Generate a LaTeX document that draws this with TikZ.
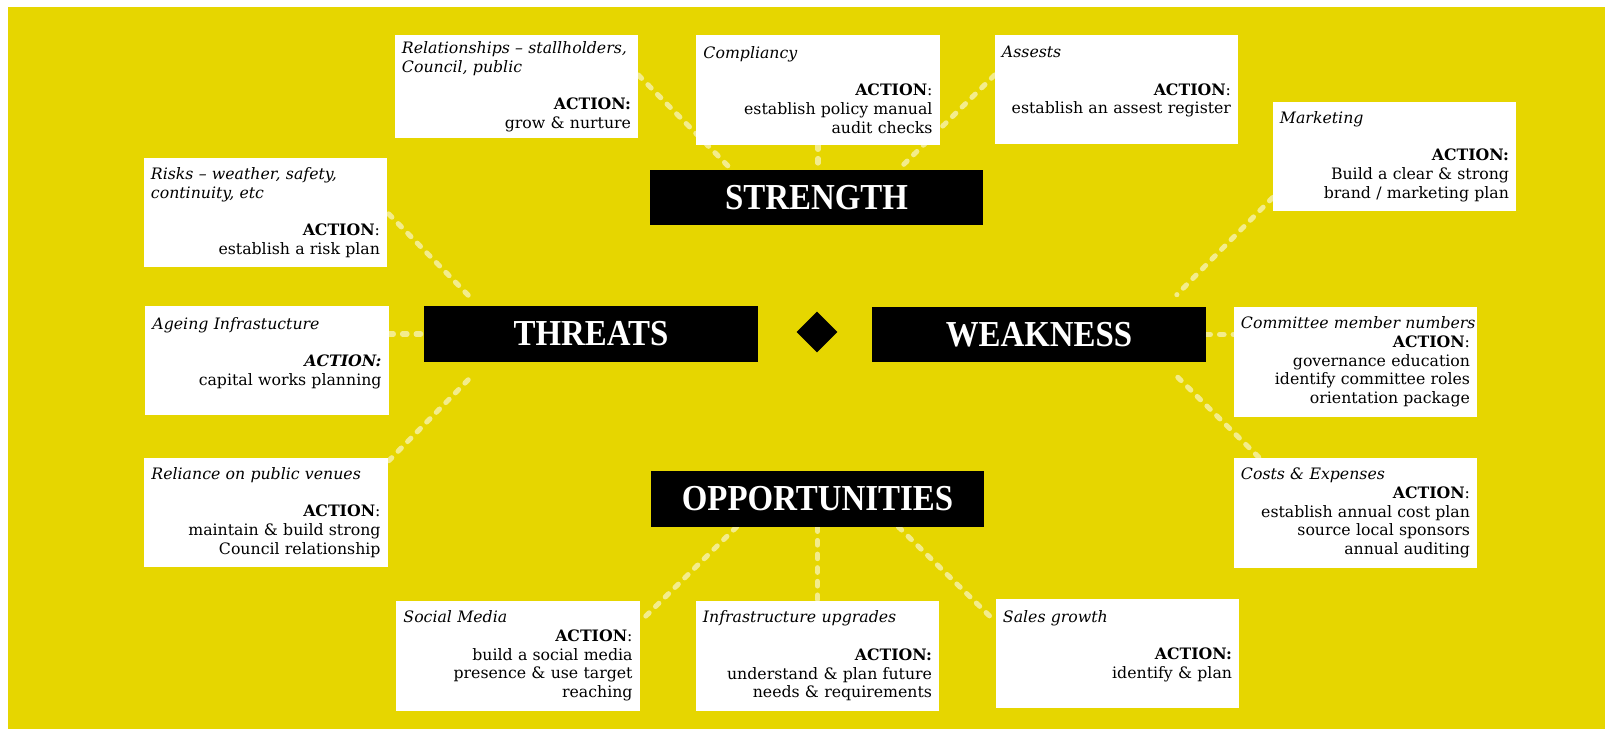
\documentclass[tikz,border=0pt]{standalone}
\usepackage{fontspec}
\setmainfont{DejaVu Serif}
\newfontfamily\titlefont[FakeStretch=0.9]{Liberation Serif}
\usetikzlibrary{shapes.geometric}

\definecolor{swotyellow}{RGB}{230,214,0}
\definecolor{linkyellow}{RGB}{243,236,140}

\pgfdeclarelayer{bg}
\pgfdeclarelayer{links}
\pgfsetlayers{bg,links,main}

\newcommand{\hd}[1]{\makebox[\linewidth][l]{\itshape #1}}

\tikzset{
  card/.style={fill=white, minimum width=6.075cm, minimum height=2.725cm,
    text width=5.725cm, inner xsep=0.175cm, inner ysep=0pt, align=right,
    font=\fontsize{11.2}{13.3}\selectfont},
  swotbox/.style={fill=black, text=white, minimum width=8.325cm,
    minimum height=1.375cm, inner sep=0pt, font=\titlefont\bfseries\fontsize{26}{30}\selectfont},
  link/.style={draw=linkyellow, line width=3.6pt, line cap=round,
    dash pattern=on 3.3pt off 6.4pt}
}

\begin{document}
\begin{tikzpicture}[x=0.025cm,y=-0.025cm]

        \useasboundingbox (0,0) rectangle (1605,729);
        \begin{pgfonlayer}{bg}
          \fill[white] (0,0) rectangle (1605,729);
          \fill[swotyellow] (8,7) rectangle (1605,729);
        \end{pgfonlayer}

        \begin{scope}[every node/.style={swotbox}]
          \node (str)  at (816.5,197.5) {STRENGTH};
          \node (thr)  at (591,334)     {THREATS};
          \node (weak) at (1039,334.5)  {WEAKNESS};
          \node (opp)  at (817.5,499)   {OPPORTUNITIES};
        \end{scope}

        \node[diamond, fill=black, inner sep=0pt, minimum width=1.025cm,
          minimum height=1.025cm] (mid) at (817,332) {};

        \begin{scope}[every node/.style={card}]
          \node[minimum height=2.575cm] (rel) at (516.5,86.5)
            {\hd{Relationships -- stallholders,}\\ \hd{Council, public}\\ \mbox{}\\ \textbf{ACTION:}\\ grow \& nurture};
          \node (comp)  at (818,90)
            {\hd{Compliancy}\\ \mbox{}\\ \textbf{ACTION}:\\ establish policy manual\\ audit checks};
          \node (asset) at (1116.5,89.5)
            {\hd{Assests}\\ \mbox{}\\ \textbf{ACTION}:\\ establish an assest register\\ \mbox{}};
          \node (mkt)   at (1394.5,156.5)
            {\hd{Marketing}\\ \mbox{}\\ \textbf{ACTION:}\\ Build a clear \& strong\\ brand / marketing plan};
          \node (risk)  at (265.5,212.5)
            {\hd{Risks -- weather, safety,}\\ \hd{continuity, etc}\\ \mbox{}\\ \textbf{ACTION}:\\ establish a risk plan};
          \node (age)   at (267,360.5)
            {\hd{Ageing Infrastucture}\\ \mbox{}\\ \textbf{\itshape ACTION:}\\ capital works planning\\ \mbox{}};
          \node (rely)  at (266,512.5)
            {\hd{Reliance on public venues}\\ \mbox{}\\ \textbf{ACTION}:\\ maintain \& build strong\\ Council relationship};
          \node (comm)  at (1355.5,362)
            {\hd{Committee member numbers}\\ \textbf{ACTION}:\\ governance education\\ identify committee roles\\ orientation package};
          \node (cost)  at (1355.5,513)
            {\hd{Costs \& Expenses}\\ \textbf{ACTION}:\\ establish annual cost plan\\ source local sponsors\\ annual auditing};
          \node (soc)   at (518,656)
            {\hd{Social Media}\\ \textbf{ACTION}:\\ build a social media\\ presence \& use target\\ reaching};
          \node (infra) at (817.5,656)
            {\hd{Infrastructure upgrades}\\ \mbox{}\\ \textbf{ACTION:}\\ understand \& plan future\\ needs \& requirements};
          \node (sales) at (1117.5,653.5)
            {\hd{Sales growth}\\ \mbox{}\\ \textbf{ACTION:}\\ identify \& plan\\ \mbox{}};
        \end{scope}

        \begin{pgfonlayer}{links}
          \begin{scope}[every edge/.style={link}]
            \path ([shift={(0,-11.5)}]rel.east) edge ([shift={(82,0)}]str.north west);
            \path (comp.south) edge (comp.south |- str.north);
            \path ([shift={(0,-14.5)}]asset.west) edge ([shift={(-85,0)}]str.north east);
            \path ([shift={(0,41)}]mkt.west) edge ([shift={(-29,-12)}]weak.north east);
            \path (weak.east) edge (weak.east -| comm.west);
            \path ([shift={(-28,15)}]weak.south east) edge ([shift={(26,0)}]cost.north west);
            \path ([shift={(-86,0)}]opp.south east) edge ([shift={(-2,-33.5)}]sales.west);
            \path (opp.south) edge (opp.south |- infra.north);
            \path ([shift={(86,0)}]opp.south west) edge ([shift={(2,-36)}]soc.east);
            \path ([shift={(44,18)}]thr.south west) edge ([shift={(1,3)}]rely.north east);
            \path (thr.west -| age.east) edge (thr.west);
            \path ([shift={(44,-11)}]thr.north west) edge (risk.east);
          \end{scope}
        \end{pgfonlayer}

      \end{tikzpicture}
\end{document}
